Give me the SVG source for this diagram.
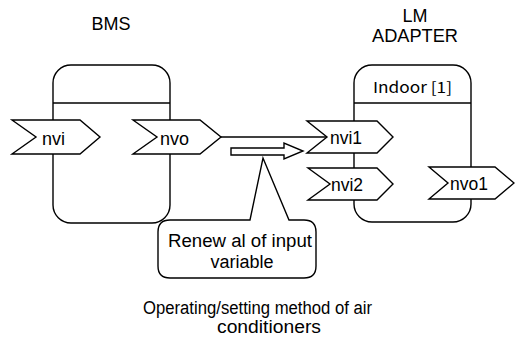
<svg xmlns="http://www.w3.org/2000/svg" width="515" height="340" viewBox="0 0 515 340">
<style>
.ln{fill:none;stroke:#000;stroke-width:1.4}
.box{fill:#fff;stroke:#000;stroke-width:1.4}
.chev{fill:#fff;stroke:#000;stroke-width:1.4;stroke-linejoin:miter}
.t{font-family:"Liberation Sans",Arial,sans-serif;fill:#000}
.j{font-family:"Noto Sans CJK JP","DejaVu Sans",sans-serif;fill:#000}
</style>
<rect width="515" height="340" fill="#fff"/>
<text class="t" x="111" y="30" font-size="18" text-anchor="middle">BMS</text>
<text class="t" x="415" y="22" font-size="18" text-anchor="middle">LM</text>
<text class="t" x="415" y="42" font-size="18" text-anchor="middle" textLength="86" lengthAdjust="spacingAndGlyphs">ADAPTER</text>

<g id="bms">
<rect class="box" x="53" y="65" width="117" height="158" rx="18" ry="18"/>
<line class="ln" x1="53" y1="103" x2="170" y2="103"/>
</g>
<g id="lm-adapter">
<rect class="box" x="354" y="65" width="117" height="157" rx="18" ry="18"/>
<line class="ln" x1="354" y1="103" x2="471" y2="103"/>
<text class="j" x="373" y="93" font-size="15" textLength="79" lengthAdjust="spacingAndGlyphs">Indoor [1]</text>
</g>

<g id="connectors">
<line class="ln" x1="221" y1="137" x2="327" y2="137"/>
<polygon class="chev" points="231,148 284,148 284,143 303,151 284,159 284,155 231,155"/>
</g>

<g id="nvi">
<polygon class="chev" points="12,120 80,120 100,137 80,154 12,154 36,137"/>
<text class="t" x="42" y="145" font-size="18">nvi</text>
</g>
<g id="nvo">
<polygon class="chev" points="133,120 200,120 221,137 200,154 133,154 157,137"/>
<text class="t" x="160" y="145" font-size="18">nvo</text>
</g>
<g id="nvi1">
<polygon class="chev" points="307,121 377,121 393,137 377,153 307,153 327,137"/>
<text class="t" x="330" y="144" font-size="17.5">nvi1</text>
</g>
<g id="nvi2">
<polygon class="chev" points="308,168 377,168 393,184 377,200 308,200 330,184"/>
<text class="t" x="331" y="191" font-size="17.5">nvi2</text>
</g>
<g id="nvo1">
<polygon class="chev" points="429,167 495,167 514,183 495,199 429,199 448,183"/>
<text class="t" x="450" y="190" font-size="17.5">nvo1</text>
</g>

<g id="callout">
<path class="box" d="M170,220 L250,220 L263,158 L289,220 L304,220 Q316,220 316,232 L316,266 Q316,278 304,278 L170,278 Q158,278 158,266 L158,232 Q158,220 170,220 Z"/>
<text class="t" x="168" y="247" font-size="18" textLength="144" lengthAdjust="spacingAndGlyphs">Renew al of input</text>
<text class="t" x="242" y="268" font-size="18" text-anchor="middle">variable</text>
</g>

<text class="t" x="143" y="314" font-size="18" textLength="229" lengthAdjust="spacingAndGlyphs">Operating/setting method of air</text>
<text class="t" x="217" y="333" font-size="18" textLength="104" lengthAdjust="spacingAndGlyphs">conditioners</text>
</svg>
